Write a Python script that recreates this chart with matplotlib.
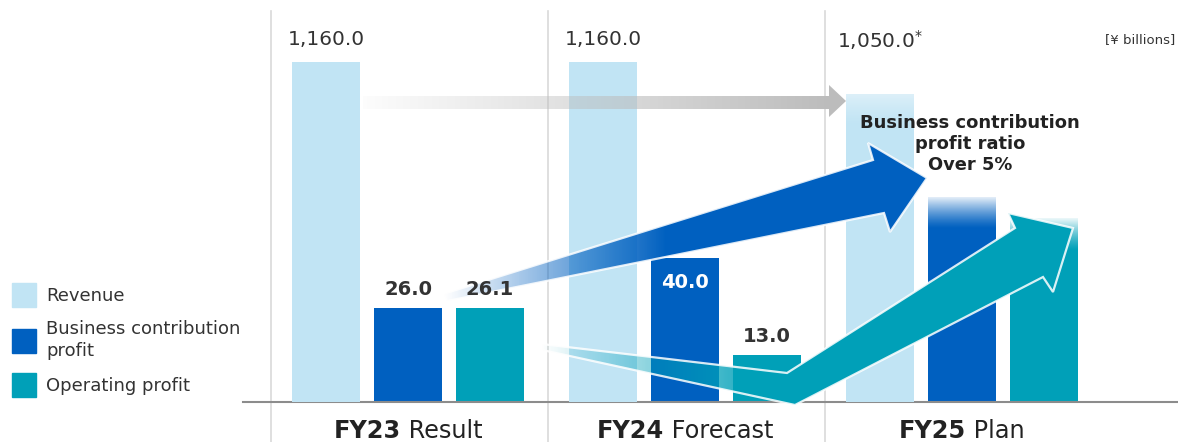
import numpy as np
import matplotlib
matplotlib.use('Agg')
import matplotlib.pyplot as plt
from matplotlib.patches import Patch, Polygon
from matplotlib.colors import to_rgb
from matplotlib.offsetbox import TextArea, HPacker, AnnotationBbox

# data
years = ['FY23', 'FY24', 'FY25']
phases = ['Result', 'Forecast', 'Plan']
revenue = [1160.0, 1160.0, 1050.0]
bcp = [26.0, 40.0, 57.0]
op = [26.1, 13.0, 51.0]
revenue_labels = ['1,160.0', '1,160.0', '1,050.0$^{*}$']
bcp_labels = ['26.0', '40.0', '']
op_labels = ['26.1', '13.0', '']
series = ['Revenue', 'Business contribution\nprofit', 'Operating profit']

c_rev = '#c1e4f4'
c_bcp = '#0060c0'
c_op = '#00a0b8'
c_text = '#333333'

W, H = 1178, 442
plt.rcParams['font.family'] = ['DejaVu Sans']
fig = plt.figure(figsize=(W / 100, H / 100), dpi=100)

# main axes: baseline at y=402px, axes from x=243px to right edge
ax = fig.add_axes([243 / W, 40 / H, (W - 243) / W, 402 / H])
ax2 = ax.twinx()


def set_limits():
    ax.set_xlim((243 - 408) / 277, (W - 408) / 277)
    ax.set_ylim(0, 402 / 3.6)
    ax2.set_ylim(0, 402 / (340 / 1160))


set_limits()
for a in (ax, ax2):
    a.set_xticks([])
    a.set_yticks([])
    for s in a.spines.values():
        s.set_visible(False)
    a.patch.set_alpha(0)
ax.spines['bottom'].set_visible(True)
ax.spines['bottom'].set_color('#8c8c8c')
ax.spines['bottom'].set_linewidth(1.5)

x = np.arange(len(years))
off = 0.296
bw = 0.2455

# group separators
for xs in [-0.5, 0.5, 1.5]:
    ax.axvline(xs + 0.005, ymin=-40 / 402, ymax=(402 - 11) / 402, color='#d9d9d9',
               lw=1.2, clip_on=False, zorder=0)

ax2.bar(x - off, revenue, bw, color=c_rev, zorder=1)
ax.bar(x, bcp, bw, color=c_bcp, zorder=1)
ax.bar(x + off, op, bw, color=c_op, zorder=1)


def fade_top(a, xc, top, depth, a_top=0.95):
    # white fade over the upper part of a bar
    img = np.ones((100, 1, 4))
    img[:, 0, 3] = np.linspace(a_top, 0, 100) ** 1.3
    a.imshow(img, extent=(xc - bw / 2, xc + bw / 2, top - depth, top), origin='upper',
             aspect='auto', interpolation='bilinear', zorder=2)


fade_top(ax2, x[2] - off, revenue[2] + 80, 190)
fade_top(ax, x[2], bcp[2], 9)
fade_top(ax, x[2] + off, op[2], 9)
set_limits()

# category labels
for i in range(len(years)):
    pack = HPacker(children=[
        TextArea(years[i], textprops=dict(fontsize=17.3, fontweight='bold', color='#222222')),
        TextArea(' ' + phases[i], textprops=dict(fontsize=17.3, color='#222222'))],
        align='baseline', pad=0, sep=0)
    ab = AnnotationBbox(pack, (x[i], 0), xybox=(0, -29.6), xycoords='data',
                        boxcoords='offset points', box_alignment=(0.5, 0), frameon=False,
                        pad=0, annotation_clip=False)
    ax.add_artist(ab)

# legend
handles = [Patch(color=c) for c in (c_rev, c_bcp, c_op)]
leg = fig.legend(handles, series, loc='upper left', bbox_to_anchor=(12 / W, 1 - 283 / H),
                 frameon=False, fontsize=13, handlelength=1.33, handleheight=1.67,
                 handletextpad=0.55, labelspacing=0.70, borderpad=0, borderaxespad=0,
                 labelcolor=c_text)
for t in leg.get_texts():
    t.set_linespacing(1.32)

# overlay for arrows, in pixel coordinates
ov = fig.add_axes([0, 0, 1, 1], zorder=5)
ov.axis('off')
ov.patch.set_alpha(0)


def gradient_shape(a, verts, color, x_start, x_end, a_start=0.0, a_end=1.0, glow=True):
    poly = Polygon(verts, closed=True, facecolor='none', edgecolor='none')
    a.add_patch(poly)
    xs = [v[0] for v in verts]
    ys = [v[1] for v in verts]
    cols = np.linspace(min(xs), max(xs), 500)
    img = np.zeros((1, 500, 4))
    img[..., :3] = to_rgb(color)
    img[0, :, 3] = np.interp(cols, [x_start, x_end], [a_start, a_end])
    im = a.imshow(img, extent=(min(xs), max(xs), max(ys), min(ys)), aspect='auto',
                  interpolation='nearest')
    im.set_clip_path(poly)
    if glow:
        a.add_patch(Polygon(verts, closed=True, facecolor='none', edgecolor='white',
                            lw=1.6, alpha=0.85))


gray_arrow = [(363, 96), (829, 96), (829, 85), (846, 101), (829, 117), (829, 109), (363, 109)]
gradient_shape(ov, gray_arrow, '#bcbcbc', 363, 829, 0.04, 1.0, glow=False)

blue_arrow = [(443, 294), (873, 160), (868, 143), (927, 178), (890, 232), (884, 213), (447, 301)]
gradient_shape(ov, blue_arrow, c_bcp, 443, 665, 0.0, 1.0)

teal_arrow = [(533, 343), (787, 373), (1015, 228), (1008, 213), (1073, 228), (1053, 292),
              (1043, 277), (795, 405), (533, 348)]
gradient_shape(ov, teal_arrow, c_op, 540, 780, 0.0, 1.0)

ov.set_xlim(0, W)
ov.set_ylim(H, 0)

# value labels, drawn above the arrows
for i, lab in enumerate(revenue_labels):
    ov.annotate(lab, (x[i] - off, max(revenue)), xycoords=ax2.transData, xytext=(0, 16),
                textcoords='offset points', ha='center', va='center', fontsize=14.5,
                color=c_text)
for i, lab in enumerate(bcp_labels):
    if not lab:
        continue
    inside = bcp[i] > 30
    ov.annotate(lab, (x[i], bcp[i]), xycoords=ax.transData, xytext=(0, -18 if inside else 13.5),
                textcoords='offset points', ha='center', va='center', fontsize=14,
                fontweight='bold', color='white' if inside else c_text)
for i, lab in enumerate(op_labels):
    if not lab:
        continue
    ov.annotate(lab, (x[i] + off, op[i]), xycoords=ax.transData, xytext=(0, 13.5),
                textcoords='offset points', ha='center', va='center', fontsize=14,
                fontweight='bold', color=c_text)

ov.text(970, 144, 'Business contribution\nprofit ratio\nOver 5%', ha='center', va='center',
        fontsize=12.9, fontweight='bold', color='#222222', linespacing=1.25)
ov.text(1175, 40, '[\u00a5 billions]', ha='right', va='center', fontsize=9.5, color=c_text)

fig.savefig('out.png', dpi=100)
